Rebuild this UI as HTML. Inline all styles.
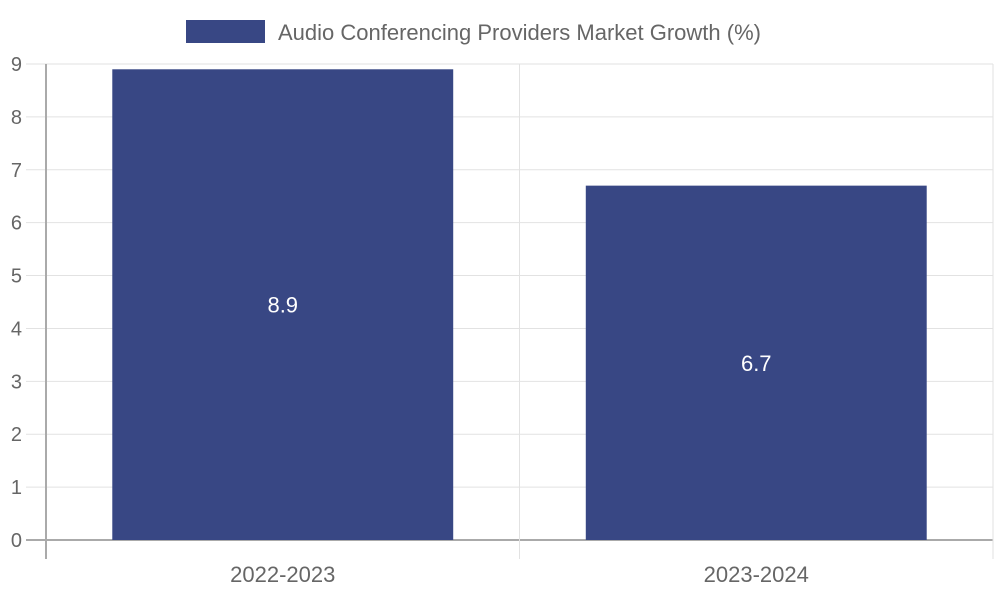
<!DOCTYPE html>
<html><head><meta charset="utf-8"><style>body{margin:0;background:#fff}svg{display:block;font-family:"Liberation Sans",sans-serif}</style></head>
<body>
<svg id="chart" width="1000" height="600" xmlns="http://www.w3.org/2000/svg">
<g id="grid"></g>
<g id="bars"></g>
<g id="axes"></g>
<g>
<rect x="186" y="20" width="79" height="23" fill="#384784"/>
<text x="278" y="40" font-size="22" fill="#666">Audio Conferencing Providers Market Growth (%)</text>
</g>
</svg>
<script>
const categories = ["2022-2023", "2023-2024"];
const values = [8.9, 6.7];
const yTicks = [0,1,2,3,4,5,6,7,8,9];
const NS="http://www.w3.org/2000/svg";
const L=46,R=993,T=64,B=540,yMax=9;
const y=v=>B-(v/yMax)*(B-T);
const bw=(R-L)/categories.length;
const x=i=>L+bw*i;
function mk(tag,attrs,parent,txt){const e=document.createElementNS(NS,tag);for(const k in attrs)e.setAttribute(k,attrs[k]);if(txt!==undefined)e.textContent=txt;document.getElementById(parent).appendChild(e);return e;}
yTicks.forEach(t=>{
  const g=mk('line',{x1:26,x2:R,y1:y(t),y2:y(t),stroke:t===0?'#aaa':'#e2e2e2','stroke-width':t===0?2:1},'grid');
  
  
  const lb=mk('text',{x:22,y:y(t)+7,'font-size':20,fill:'#666','text-anchor':'end'},'axes',t);
  
  
});
for(let i=0;i<=categories.length;i++){
  const g=mk('line',{x1:x(i),x2:x(i),y1:T,y2:559,stroke:i===0?'#aaa':'#e2e2e2','stroke-width':i===0?2:1},'grid');
  
  
}
categories.forEach((c,i)=>{
  const w=bw*0.72,bx=x(i)+(bw-w)/2;
  const r=mk('rect',{x:bx,y:y(values[i]),width:w,height:B-y(values[i]),fill:'#384784'},'bars');
  
  
  const v=mk('text',{x:bx+w/2,y:(y(values[i])+B)/2+8,'font-size':22,fill:'#fff','text-anchor':'middle'},'bars',values[i]);
  
  
  const lb=mk('text',{x:x(i)+bw/2,y:582,'font-size':22,fill:'#666','text-anchor':'middle'},'axes',c);
  
  
});
</script>
</body></html>
